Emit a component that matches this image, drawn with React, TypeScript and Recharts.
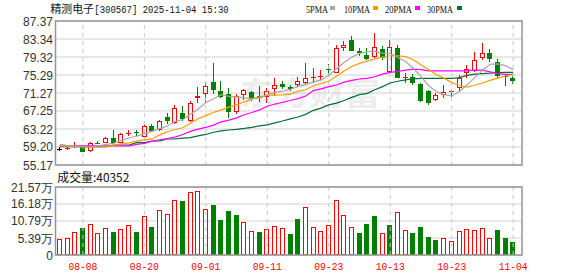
import React from 'react';
import { ComposedChart, Bar, Line, XAxis, YAxis, CartesianGrid, ReferenceLine } from 'recharts';

const dates = [
  '08-05','08-06','08-07','08-08','08-11','08-12','08-13','08-14','08-15','08-18',
  '08-19','08-20','08-21','08-22','08-25','08-26','08-27','08-28','08-29','09-01',
  '09-02','09-03','09-04','09-05','09-08','09-09','09-10','09-11','09-12','09-15',
  '09-16','09-17','09-18','09-19','09-22','09-23','09-24','09-25','09-26','09-29',
  '09-30','10-09','10-10','10-13','10-14','10-15','10-16','10-17','10-20','10-21',
  '10-22','10-23','10-24','10-27','10-28','10-29','10-30','10-31','11-03','11-04',
];

const opens = [
  58.68,59.0,59.38,59.35,58.3,60.2,60.16,61.13,60.16,62.37,
  62.45,61.5,63.9,62.9,65.9,64.5,66.73,65.08,70.08,70.98,
  73.66,71.72,71.05,67.0,70.82,71.4,70.08,70.44,72.1,73.28,
  72.68,73.06,73.57,74.8,75.05,76.6,75.81,81.27,83.12,80.66,
  79.77,79.25,81.1,76.0,81.27,74.75,74.92,73.28,71.72,69.7,
  70.82,71.7,72.32,75.67,76.2,78.99,80.15,78.13,75.12,74.56,
];
const highs = [
  59.1,59.5,60.25,59.6,60.3,60.54,61.43,63.0,62.3,63.05,
  63.0,64.27,64.34,65.16,66.87,68.6,68.43,69.55,72.68,73.66,
  77.9,73.95,72.3,71.05,72.1,71.72,72.77,72.3,74.7,73.95,
  73.06,74.85,77.9,76.91,76.4,77.7,82.0,82.9,84.02,81.27,
  81.27,84.62,81.85,83.12,82.0,75.67,75.45,73.44,71.94,71.2,
  73.06,72.17,75.3,77.53,80.37,82.38,81.1,78.87,75.3,75.14,
];
const lows = [
  58.3,58.5,59.05,58.0,58.0,59.79,60.02,59.95,60.0,61.65,
  61.7,61.3,62.47,62.75,64.27,64.3,65.0,64.85,69.1,69.2,
  71.05,70.08,65.6,66.57,69.7,69.5,69.2,69.1,70.67,72.1,
  71.72,72.68,73.2,73.8,74.2,75.3,75.67,80.73,80.66,79.6,
  78.65,79.17,78.65,75.9,74.56,73.44,73.06,69.2,68.59,69.55,
  70.08,70.44,71.4,74.56,75.9,78.65,78.27,74.7,72.9,73.28,
];
const closes = [
  58.68,59.06,59.44,58.15,60.1,60.14,61.13,60.16,62.1,62.43,
  62.4,63.9,62.77,64.95,65.05,67.85,65.39,69.1,70.6,72.83,
  71.87,70.44,67.1,70.5,71.87,70.08,70.5,71.65,73.06,72.68,
  72.1,73.95,74.7,74.92,75.15,76.55,81.27,82.0,80.73,80.15,
  78.8,81.62,79.17,81.48,74.7,74.82,73.44,69.48,69.0,70.82,
  71.56,71.76,74.7,76.57,78.65,80.15,78.8,75.07,75.05,74.02,
];

const ma5 = [
  59.4,59.4,59.3,59.2,59.2,59.4,59.8,60.0,60.7,61.2,
  61.6,62.2,62.7,63.3,63.9,64.9,65.3,66.5,67.7,69.1,
  70.0,70.9,70.5,70.4,70.2,70.0,70.1,70.9,71.4,71.7,
  72.1,72.7,73.2,73.7,74.2,75.2,76.7,78.1,79.3,80.1,
  80.5,80.6,80.2,80.1,79.2,78.3,76.8,75.0,72.9,71.6,
  70.9,70.6,71.6,73.1,74.7,76.3,77.7,77.8,77.4,76.5,
];
const ma10 = [
  59.8,59.5,59.4,59.3,59.2,59.2,59.3,59.6,59.9,60.1,
  60.5,60.8,61.0,61.9,62.6,63.1,63.5,64.5,65.5,66.2,
  66.9,67.5,68.1,68.6,69.3,69.9,70.4,70.75,70.8,70.85,
  71.0,71.7,72.0,72.9,73.4,73.9,75.0,76.2,77.2,77.9,
  78.4,78.9,79.3,79.6,79.6,79.4,78.7,77.6,76.5,75.4,
  74.6,73.6,73.0,72.6,73.0,73.5,74.1,74.6,75.1,75.4,
];
const ma20 = [
  59.45,59.45,59.45,59.45,59.45,59.45,59.45,59.45,59.45,59.45,
  59.8,60.0,60.5,60.8,61.1,61.4,62.0,62.7,63.2,63.6,
  64.1,64.8,65.2,65.7,66.4,66.9,67.5,68.3,68.8,69.2,
  69.6,70.0,70.6,71.8,72.2,72.7,73.06,73.7,74.1,74.4,
  74.55,74.9,75.5,75.9,76.1,76.4,76.6,76.5,76.2,76.2,
  76.2,76.2,76.2,76.2,76.4,76.4,76.0,75.6,75.45,75.45,
];
const ma30 = [
  59.27,59.27,59.27,59.27,59.27,59.27,59.27,59.64,59.64,59.64,
  60.17,60.17,60.54,60.54,60.98,60.98,61.2,61.3,61.7,62.0,
  62.5,62.8,63.0,63.15,63.35,63.6,63.9,64.15,64.6,65.0,
  65.5,65.9,66.5,67.4,67.9,68.6,69.0,69.6,70.3,70.9,
  71.2,72.0,72.7,73.5,73.9,74.2,74.45,74.55,74.55,74.55,
  74.55,74.55,74.7,75.2,75.5,75.6,75.7,75.85,75.9,75.9,
];

// volume in 万 (10k shares)
const volumes = [
  5.07,5.39,7.3,8.56,9.83,6.98,8.46,7.3,8.25,9.41,
  7.3,12.37,8.88,14.17,13.0,17.35,17.13,19.98,20.3,14.49,
  15.96,11.1,13.95,12.69,10.47,7.7,7.3,8.25,9.2,8.6,
  6.66,11.31,15.12,8.77,7.61,9.41,17.35,12.58,8.88,6.98,
  9.83,12.26,6.98,9.41,13.64,7.82,6.98,8.88,5.71,4.65,
  5.28,4.44,7.5,8.14,7.82,8.46,5.39,7.93,5.39,4.0352,
];
const volDir = 'uuuduuuduududuuuduuudddduuduuudduuuuuuuddduduudddduuuuuuudddd'.slice(0, 60);

const priceTickLabels = ['55.17','59.20','63.22','67.25','71.27','75.29','79.32','83.34','87.37'];
const volTickLabels = ['0','5.39万','10.79万','16.18万','21.57万'];
const volTickValues = [0, 5.39, 10.79, 16.18, 21.57];
const dateTicks = ['08-08','08-20','09-01','09-11','09-23','10-13','10-23','11-04'];

const title = '精测电子';
const titleCode = '[300567] 2025-11-04 15:30';
const legendNames = ['5PMA','10PMA','20PMA','30PMA'];
const volTitle = '成交量:40352';
const watermark = '东方财富';

const RED = '#ff0000';
const GREEN = '#008000';
const C_MA5 = '#a6a6a6';
const C_MA10 = '#f2a000';
const C_MA20 = '#ff00ff';
const C_MA30 = '#006f35';
const maColors = [C_MA5, C_MA10, C_MA20, C_MA30];

const table = dates.map((date, i) => ({
  date,
  open: opens[i],
  high: highs[i],
  low: lows[i],
  close: closes[i],
  range: [lows[i], highs[i]],
  ma5: ma5[i],
  ma10: ma10[i],
  ma20: ma20[i],
  ma30: ma30[i],
  vol: volumes[i],
  volUp: volDir[i] === 'u',
}));

const priceTicks = priceTickLabels.map(Number);
const SANS = "'Liberation Sans', Arial, sans-serif";
const CJK = "'Noto Sans CJK SC', sans-serif";

const Candle = (props: any) => {
  const { x, y, width, height, payload } = props;
  if (!payload) return null;
  const { open, close, high, low } = payload;
  const top = Math.min(y, y + height);
  const bot = Math.max(y, y + height);
  const k = high - low > 0 ? (bot - top) / (high - low) : 0;
  const py = (v: number) => top + (high - v) * k;
  const cx = Math.floor(x + width / 2);
  const color = close > open ? RED : close < open ? GREEN : '#000';
  const yH = Math.round(py(high));
  const yL = Math.round(py(low));
  const yT = Math.round(py(Math.max(open, close)));
  const yB = Math.round(py(Math.min(open, close)));
  const els: any[] = [];
  if (yB - yT <= 1) {
    els.push(<line key="w" x1={cx + 0.5} x2={cx + 0.5} y1={yH} y2={yL} stroke={color} strokeWidth={1} />);
    els.push(<rect key="b" x={cx - 2} y={yT} width={5} height={1} fill={color} />);
  } else if (close > open) {
    els.push(<line key="w1" x1={cx + 0.5} x2={cx + 0.5} y1={yH} y2={yT} stroke={color} strokeWidth={1} />);
    els.push(<line key="w2" x1={cx + 0.5} x2={cx + 0.5} y1={yB} y2={yL} stroke={color} strokeWidth={1} />);
    els.push(<rect key="b" x={cx - 1.5} y={yT + 0.5} width={4} height={yB - yT - 1} fill="#fff" stroke={color} strokeWidth={1} />);
  } else {
    els.push(<line key="w" x1={cx + 0.5} x2={cx + 0.5} y1={yH} y2={yL} stroke={color} strokeWidth={1} />);
    els.push(<rect key="b" x={cx - 2} y={yT} width={5} height={yB - yT} fill={color} />);
  }
  return <g>{els}</g>;
};

const VolBar = (props: any) => {
  const { x, y, width, height, payload } = props;
  if (!payload) return null;
  const cx = Math.floor(x + width / 2);
  const t = Math.round(Math.min(y, y + height));
  const b = Math.round(Math.max(y, y + height));
  if (payload.volUp) {
    return <rect x={cx - 1.5} y={t + 0.5} width={4} height={Math.max(0, b - t - 1)} fill="#fff" stroke={RED} strokeWidth={1} />;
  }
  return <rect x={cx - 2} y={t} width={5} height={b - t} fill={GREEN} />;
};

const PriceTick = (p: any) => {
  const v = p.payload.value;
  const lbl = priceTickLabels.find((l) => Math.abs(Number(l) - v) < 1e-6) ?? String(v);
  return (
    <text x={p.x} y={p.y} dy={4.5} textAnchor="end" fontSize={12} fontFamily={SANS} fill="#333">
      {lbl}
    </text>
  );
};

const VolTick = (p: any) => {
  const v = p.payload.value;
  const idx = volTickValues.findIndex((t) => Math.abs(t - v) < 1e-6);
  return (
    <text x={p.x} y={p.y} dy={4.5} textAnchor="end" fontSize={12} fontFamily={SANS} fill="#333">
      {idx >= 0 ? volTickLabels[idx] : String(v)}
    </text>
  );
};

const DateTick = (p: any) => (
  <text
    x={p.x}
    y={p.y + 15}
    textAnchor="middle"
    fontSize={11}
    fontFamily="'Liberation Mono', monospace"
    fill={RED}
    textLength={29}
    lengthAdjust="spacingAndGlyphs"
  >
    {p.payload.value}
  </text>
);

export default function App() {
  const abs: React.CSSProperties = { position: 'absolute', left: 0, top: 0 };
  return (
    <div style={{ position: 'absolute', left: 0, top: 0, width: 578, height: 276, background: '#fff', overflow: 'hidden' }}>
      <svg width={578} height={276} style={abs}>
        <text x={240} y={105} fontSize={32} fontWeight="bold" fontFamily={CJK} fill="#ededed" textLength={140} lengthAdjust="spacingAndGlyphs">
          {watermark}
        </text>
      </svg>
      <div style={abs}>
        <ComposedChart width={578} height={182} data={table} margin={{ top: 21, right: 56, bottom: 17, left: 0 }}>
          <CartesianGrid vertical={false} stroke="#d2d2d2" />
          <XAxis dataKey="date" hide padding={{ left: 0, right: 5 }} />
          <YAxis
            domain={[55.17, 87.37]}
            ticks={priceTicks}
            interval={0}
            allowDataOverflow
            width={56}
            axisLine={false}
            tickLine={false}
            tickSize={0}
            tickMargin={3}
            tick={PriceTick}
          />
          {dateTicks.map((d) => (
            <ReferenceLine key={d} x={d} stroke="#c8c8c8" strokeDasharray="4 4" />
          ))}
          <Bar dataKey="range" barSize={5} shape={(p: any) => <Candle {...p} />} isAnimationActive={false} />
          <Line dataKey="ma30" stroke={C_MA30} strokeWidth={1.2} dot={false} activeDot={false} isAnimationActive={false} />
          <Line dataKey="ma20" stroke={C_MA20} strokeWidth={1.2} dot={false} activeDot={false} isAnimationActive={false} />
          <Line dataKey="ma10" stroke={C_MA10} strokeWidth={1.2} dot={false} activeDot={false} isAnimationActive={false} />
          <Line dataKey="ma5" stroke={C_MA5} strokeWidth={1.2} dot={false} activeDot={false} isAnimationActive={false} />
        </ComposedChart>
      </div>
      <div style={abs}>
        <ComposedChart width={578} height={276} data={table} margin={{ top: 187, right: 56, bottom: 0, left: 0 }}>
          <CartesianGrid vertical={false} stroke="#d2d2d2" />
          <XAxis
            dataKey="date"
            padding={{ left: 0, right: 5 }}
            ticks={dateTicks}
            interval={0}
            height={21}
            axisLine={false}
            tickLine={false}
            tickSize={0}
            tickMargin={0}
            tick={DateTick}
          />
          <YAxis
            domain={[0, 21.57]}
            ticks={volTickValues}
            interval={0}
            allowDataOverflow
            width={56}
            axisLine={false}
            tickLine={false}
            tickSize={0}
            tickMargin={3}
            tick={VolTick}
          />
          {dateTicks.map((d) => (
            <ReferenceLine key={d} x={d} stroke="#c8c8c8" strokeDasharray="4 4" />
          ))}
          <Bar dataKey="vol" barSize={5} shape={(p: any) => <VolBar {...p} />} isAnimationActive={false} />
        </ComposedChart>
      </div>
      <svg width={578} height={276} style={{ ...abs, pointerEvents: 'none' }}>
        <rect x={55.5} y={21} width={466.5} height={144} fill="none" stroke="#959595" strokeWidth={1.5} />
        <rect x={55.5} y={187} width={466.5} height={68} fill="none" stroke="#959595" strokeWidth={1.5} />
        <text x={50.5} y={12.5} fontSize={11} fontFamily={CJK} fill="#111" textLength={43.5} lengthAdjust="spacingAndGlyphs">
          {title}
        </text>
        <text x={94.3} y={12.5} fontSize={11} fontFamily="'Liberation Mono', monospace" fill="#111" textLength={134.4} lengthAdjust="spacingAndGlyphs">
          {titleCode}
        </text>
        {legendNames.map((n, i) => {
          const xs = [306, 344, 385, 427];
          const ws = [22, 26, 27, 26];
          const sq = [330, 373, 415, 457];
          return (
            <g key={n}>
              <text x={xs[i]} y={12.5} fontSize={11} fontFamily="'Liberation Serif', serif" fill="#111" textLength={ws[i]} lengthAdjust="spacingAndGlyphs">
                {n}
              </text>
              <rect x={sq[i]} y={6} width={5} height={4} fill={maColors[i]} />
            </g>
          );
        })}
        <text x={57.3} y={181.5} fontSize={12} fontFamily={CJK} fill="#111" textLength={72} lengthAdjust="spacingAndGlyphs">
          {volTitle}
        </text>
      </svg>
    </div>
  );
}
